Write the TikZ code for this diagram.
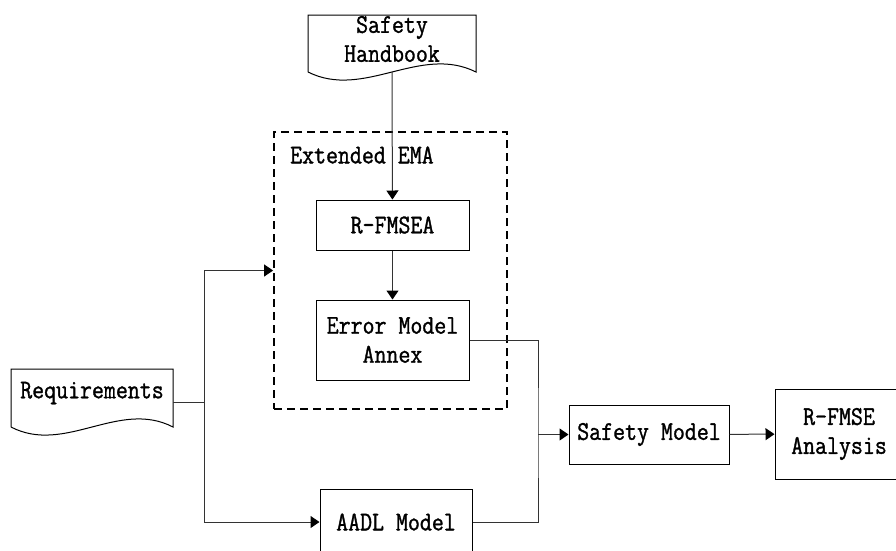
\documentclass[tikz,border=0pt]{standalone}
\usepackage{fontspec}
\usetikzlibrary{arrows.meta}
\newfontfamily\diagfont[FakeStretch=0.86,FakeBold=1.2]{Latin Modern Mono}
\begin{document}
\begin{tikzpicture}[x=1pt,y=-1pt,
  every node/.style={font={\diagfont\fontsize{27}{29}\selectfont}, align=center, inner sep=0pt},
  box/.style={draw, line width=1pt},
  doc/.style={draw, line width=1pt},
  conn/.style={line width=1pt, draw=black!80},
  arr/.style={conn, -{Triangle[length=9pt,width=12pt,color=black,fill=black]}},
  group/.style={draw, line width=1.8pt, dash pattern=on 8pt off 5pt}]
\useasboundingbox (0,0) rectangle (896,550);
\clip (0,0) rectangle (896,550);

% document shapes
\draw[doc] (308,72) -- (308,15) -- (476,15) -- (476,72)
  .. controls (420,44) and (364,100) .. (308,72);
\node (sh) at (392,39) {Safety\\Handbook};
\coordinate (shb) at (392,72);

\draw[doc] (11,427) -- (11,369) -- (173,369) -- (173,427)
  .. controls (119,399) and (65,455) .. (11,427);
\node (req) at (92,393) {Requirements};
\coordinate (reqout) at (173,402);
\coordinate (sp) at (204,402);

% extended EMA group
\node[group, minimum width=233pt, minimum height=277pt] (ema) at (390.5,270.5) {};
\node[anchor=west] (emalbl) at (290,155) {Extended EMA};

\node[box, minimum width=153pt, minimum height=50pt] (rf) at (392.5,225) {R-FMSEA};
\node[box, minimum width=153pt, minimum height=80pt] (ema2) at (392.5,340) {Error Model\\Annex};

% models
\node[box, minimum width=152pt, minimum height=66pt] (aadl) at (396,522) {AADL Model};
\node[box, minimum width=160pt, minimum height=59pt] (sm) at (649,434.5) {Safety Model};
\node[box, minimum width=128pt, minimum height=90pt] (rfa) at (839,434) {R-FMSE\\Analysis};
\coordinate (mj) at (538,434.5);

% connectors
\draw[arr] (shb) -- (rf);
\draw[arr] (rf) -- (ema2);
\draw[conn] (reqout) -- (sp);
\draw[arr] (sp) |- (ema.west);
\draw[arr] (sp) |- (aadl.west);
\draw[conn] (ema2.east) -| (mj) |- (aadl.east);
\draw[arr] (mj) -- (sm.west);
\draw[arr] (sm) -- (rfa);
\end{tikzpicture}
\end{document}
